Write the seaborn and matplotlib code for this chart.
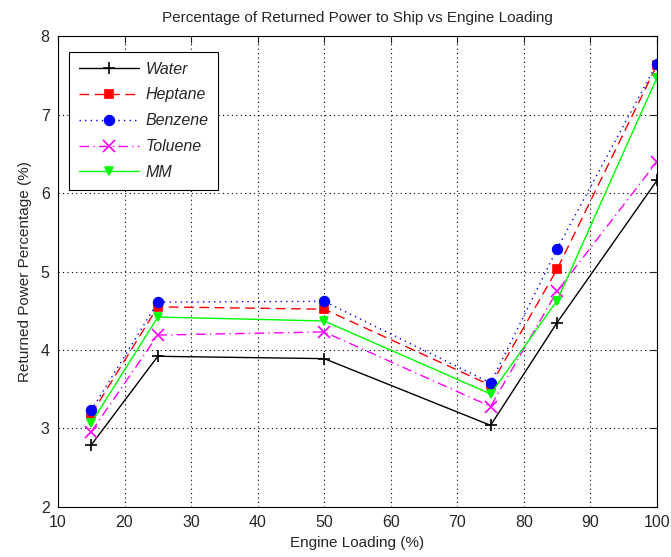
import matplotlib
matplotlib.use("Agg")
import matplotlib.pyplot as plt
import seaborn as sns
import pandas as pd

engine_loading = [15, 25, 50, 75, 85, 100]
water = [2.79, 3.92, 3.89, 3.04, 4.35, 6.16]
heptane = [3.18, 4.55, 4.52, 3.55, 5.03, 7.63]
benzene = [3.23, 4.61, 4.62, 3.58, 5.29, 7.65]
toluene = [2.96, 4.19, 4.23, 3.28, 4.75, 6.40]
mm = [3.07, 4.42, 4.37, 3.44, 4.63, 7.47]

series_names = ["Water", "Heptane", "Benzene", "Toluene", "MM"]
series_values = [water, heptane, benzene, toluene, mm]
colors = ["black", "red", "blue", "magenta", "lime"]
markers = ["+", "s", "o", "x", "v"]
linestyles = ["-", (0, (7, 4)), (0, (1, 3)), (0, (7, 3, 1, 3)), "-"]
msizes = [8, 6, 7, 8, 6]

sns.set_style("white")
plt.rcParams['font.family'] = ['Liberation Sans', 'DejaVu Sans']

fig = plt.figure(figsize=(6.71, 5.57), dpi=100)
ax = fig.add_axes([0.0864, 0.0898, 0.8927, 0.8455])

rows = []
for name, vals in zip(series_names, series_values):
    for x, y in zip(engine_loading, vals):
        rows.append({"Engine Loading": x, "Value": y, "Fluid": name})
df = pd.DataFrame(rows)

for name, c, m, ls, ms in zip(series_names, colors, markers, linestyles, msizes):
    sub = df[df["Fluid"] == name]
    sns.lineplot(data=sub, x="Engine Loading", y="Value", ax=ax, color=c,
                 marker=m, linestyle=ls, markersize=ms, linewidth=1.0,
                 markeredgecolor=c, markeredgewidth=1.2, label=name)

ax.set_xlim(10, 100)
ax.set_ylim(2, 8)
ax.set_xticks(range(10, 101, 10))
ax.set_yticks(range(2, 9))
ax.grid(True, color="black", linestyle=(0, (1, 3)), linewidth=0.8)
ax.tick_params(direction="in", top=True, right=True, length=5, labelsize=11.5, width=0.8)
ax.tick_params(axis="x", pad=6)
ax.tick_params(axis="y", pad=6)
for s in ax.spines.values():
    s.set_color("black")
    s.set_linewidth(0.8)

ax.set_xlabel("Engine Loading (%)", fontsize=11, labelpad=4)
ax.set_ylabel("Returned Power Percentage (%)", fontsize=11, labelpad=6)
ax.set_title("Percentage of Returned Power to Ship vs Engine Loading", fontsize=11, pad=10)

leg = ax.legend(loc="upper left", fontsize=11.5, frameon=True, fancybox=False,
                edgecolor="black", framealpha=1, borderpad=0.6, labelspacing=0.68,
                handlelength=3.8, handletextpad=0.4, bbox_to_anchor=(0.005, 0.983))
for t in leg.get_texts():
    t.set_fontstyle("italic")
leg.get_frame().set_linewidth(0.8)

fig.savefig("out.png", dpi=100)
